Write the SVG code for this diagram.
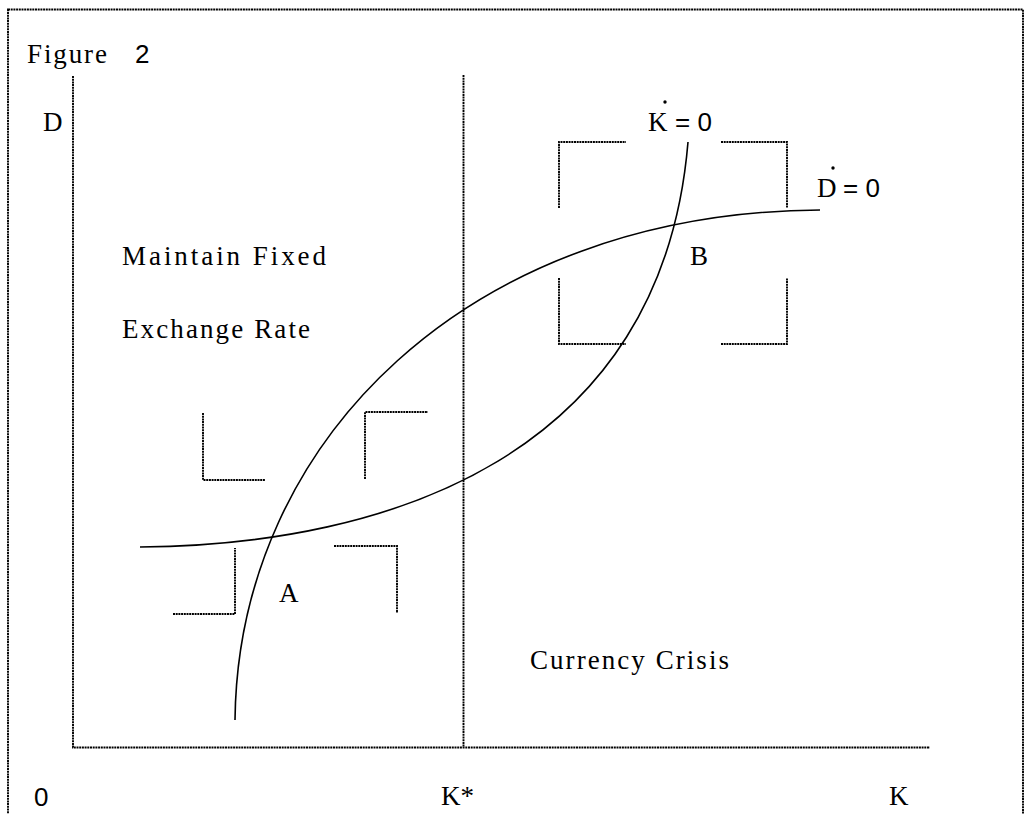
<svg xmlns="http://www.w3.org/2000/svg" width="1029" height="814" viewBox="0 0 1029 814">
<style>
.ln{fill:none;stroke:#000;stroke-width:1.9;stroke-dasharray:2 0.7}
.cv{fill:none;stroke:#000;stroke-width:1.6}
.t{font-family:"Liberation Serif","DejaVu Serif","Times New Roman",serif;font-size:27px;fill:#000}
.s{font-family:"Liberation Sans","DejaVu Sans",Arial,sans-serif;font-size:26px;fill:#000}
</style>
<rect width="1029" height="814" fill="#fff"/>
<rect class="ln" x="8" y="9.5" width="1015" height="830"/>
<g id="axes">
<polyline class="ln" points="73,76 73,747.5 930,747.5"/>
<line class="ln" x1="463.5" y1="75" x2="463.5" y2="747"/>
</g>
<g id="curves">
<path id="kdot-curve" class="cv" d="M140,547 C390,545 662,455 688,142"/>
<path id="ddot-curve" class="cv" d="M235,720 C238,440 470,212 820,210"/>
</g>
<g id="arrows-lower">
<polyline class="ln" points="203,413 203,480 265,480"/>
<polyline class="ln" points="365,479 365,412 428,412"/>
<polyline class="ln" points="173,614 235,614 235,548"/>
<polyline class="ln" points="334,546 397,546 397,613"/>
</g>
<g id="arrows-upper">
<polyline class="ln" points="559,208 559,142 626,142"/>
<polyline class="ln" points="721,142 787,142 787,208"/>
<polyline class="ln" points="559,278 559,344 626,344"/>
<polyline class="ln" points="721,344 787,344 787,278"/>
</g>
<g id="labels">
<text class="t" font-family="Liberation Serif, serif" font-size="27" x="27" y="63" textLength="80" lengthAdjust="spacing">Figure</text>
<text class="s" font-family="Liberation Sans, sans-serif" font-size="23" x="135" y="63">2</text>
<text class="t" font-family="Liberation Serif, serif" font-size="27" x="43" y="131">D</text>
<text class="t" font-family="Liberation Serif, serif" font-size="27" x="122" y="265" textLength="204" lengthAdjust="spacing">Maintain  Fixed</text>
<text class="t" font-family="Liberation Serif, serif" font-size="27" x="122" y="338" textLength="188" lengthAdjust="spacing">Exchange Rate</text>
<text class="t" font-family="Liberation Serif, serif" font-size="27" x="530" y="669" textLength="199" lengthAdjust="spacing">Currency Crisis</text>
<text class="t" font-family="Liberation Serif, serif" font-size="27" x="279" y="602">A</text>
<text class="t" font-family="Liberation Serif, serif" font-size="27" x="690" y="265">B</text>
<text class="t" font-family="Liberation Serif, serif" font-size="27" x="648" y="131">K</text>
<text class="s" font-family="Liberation Sans, sans-serif" font-size="26" x="675" y="131">= 0</text>
<circle cx="665" cy="102" r="1.7"/>
<text class="t" font-family="Liberation Serif, serif" font-size="27" x="817" y="197">D</text>
<text class="s" font-family="Liberation Sans, sans-serif" font-size="26" x="843" y="197">= 0</text>
<circle cx="833" cy="168" r="1.7"/>
<text class="s" font-family="Liberation Sans, sans-serif" font-size="25" x="34" y="806">0</text>
<text class="t" font-family="Liberation Serif, serif" font-size="27" x="441" y="805">K*</text>
<text class="t" font-family="Liberation Serif, serif" font-size="27" x="889" y="805">K</text>
</g>
</svg>
